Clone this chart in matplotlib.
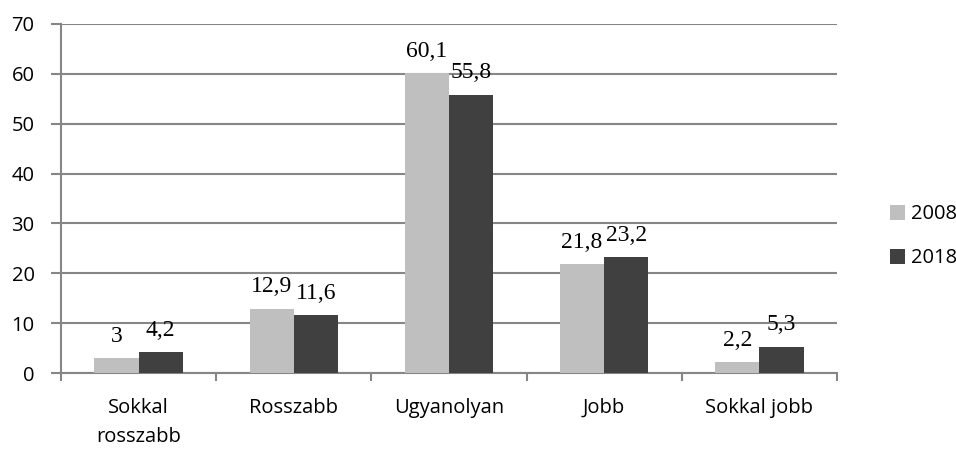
import numpy as np
import matplotlib.pyplot as plt

categories = ["Sokkal\nrosszabb", "Rosszabb", "Ugyanolyan", "Jobb", "Sokkal jobb"]
values_2008 = [3, 12.9, 60.1, 21.8, 2.2]
values_2018 = [4.2, 11.6, 55.8, 23.2, 5.3]
labels_2008 = ["3", "12,9", "60,1", "21,8", "2,2"]
labels_2018 = ["4,2", "11,6", "55,8", "23,2", "5,3"]

grid_col = "#868686"
fig = plt.figure(figsize=(9.56, 4.5), dpi=100)
ax = fig.add_axes([0.0638, 0.171, 0.8117, 0.7757])

x = np.arange(len(categories))
w = 0.285
b1 = ax.bar(x - w / 2, values_2008, w, color="#bfbfbf", label="2008", zorder=3)
b2 = ax.bar(x + w / 2, values_2018, w, color="#404040", label="2018", zorder=3)

for bars, labs in ((b1, labels_2008), (b2, labels_2018)):
    for r, t in zip(bars, labs):
        ax.text(r.get_x() + r.get_width() / 2, r.get_height() + 3.3, t,
                ha="center", va="baseline", fontsize=17,
                family="Liberation Serif", zorder=4)

ax.set_xlim(-0.5, len(categories) - 0.5)
ax.set_ylim(0, 70)
ax.set_yticks(range(0, 71, 10))
ax.yaxis.grid(True, color=grid_col, linewidth=1.5, zorder=0)
ax.set_xticks(x)
ax.set_xticklabels(categories, fontsize=14.5, family="Open Sans", linespacing=1.6)
ax.set_xticks(np.arange(-0.5, len(categories)), minor=True)
ax.tick_params(axis="x", which="major", length=0, pad=18)
ax.tick_params(axis="x", which="minor", length=6, width=1.5, color=grid_col, direction="out")
ax.tick_params(axis="y", length=7, width=1.5, color=grid_col, labelsize=14.5, pad=12)
for lab in ax.get_yticklabels():
    lab.set_family("Open Sans")

for s in ["top", "right"]:
    ax.spines[s].set_visible(False)
for s in ["left", "bottom"]:
    ax.spines[s].set_color(grid_col)
    ax.spines[s].set_linewidth(1.5)

fig.legend(handles=[b1, b2], labels=["2008", "2018"], loc="center left",
           bbox_to_anchor=(0.912, 0.475), frameon=False,
           prop={"family": "Open Sans", "size": 14.5}, handlelength=0.75,
           handleheight=0.75, handletextpad=0.3, labelspacing=1.2)

fig.savefig("out.png", dpi=100)
